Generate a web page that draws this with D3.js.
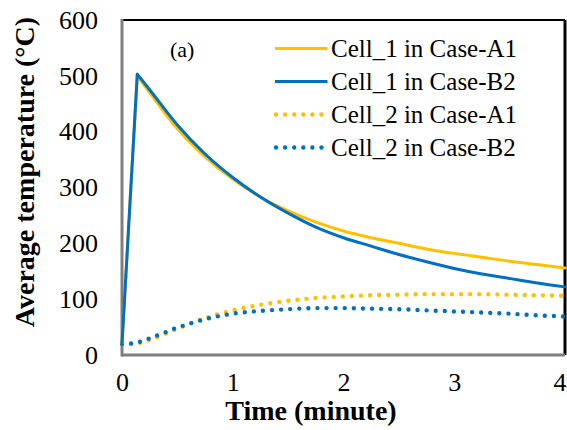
<!DOCTYPE html>
<html>
<head>
<meta charset="utf-8">
<script src="https://cdn.jsdelivr.net/npm/d3@7"></script>
<style>
  html, body { margin: 0; padding: 0; background: #fff; }
  svg { display: block; }
  text { font-family: "Liberation Serif", "Times New Roman", serif; fill: #000; }
</style>
</head>
<body>
<div id="chart"></div>
<script>
// ---- data ----
const timeCell1 = [0, 0.138, 0.25, 0.5, 0.75, 1.0, 1.25, 1.5, 1.75, 2.0, 2.25, 2.5, 2.75, 3.0, 3.25, 3.5, 3.75, 4.0];
const cell1A1 = [20, 500, 470, 405, 355, 315, 283, 258, 238, 222, 210, 200, 190, 182, 175, 168, 162, 156];
const cell1B2 = [20, 503, 475, 412, 360, 318, 283, 254, 229, 210, 195, 180, 167, 155, 145, 137, 129, 122];
const timeCell2 = [0, 0.1, 0.25, 0.5, 0.75, 1.0, 1.25, 1.5, 1.75, 2.0, 2.25, 2.5, 2.75, 3.0, 3.25, 3.5, 3.75, 4.0];
const cell2A1 = [20, 20, 27, 47, 66, 80, 90, 97, 102, 105, 107, 108, 109, 109, 109, 108, 107, 106];
const cell2B2 = [20, 21, 30, 49, 64, 74, 79, 82, 84, 84, 83, 82, 80, 78, 76, 74, 71, 69];
const xTicks = [0, 1, 2, 3, 4];
const yTicks = [0, 100, 200, 300, 400, 500, 600];
const seriesNames = ["Cell_1 in Case-A1", "Cell_1 in Case-B2", "Cell_2 in Case-A1", "Cell_2 in Case-B2"];
const seriesColors = ["#FFC000", "#0070C0", "#FFC000", "#0070C0"];

// ---- layout ----
const W = 567, H = 430;
const m = { left: 122, right: 2, top: 20, bottom: 75 };
const svg = d3.select("#chart").append("svg").attr("width", W).attr("height", H);

const x = d3.scaleLinear().domain([0, 4]).range([m.left, W - m.right]);
const y = d3.scaleLinear().domain([0, 600]).range([H - m.bottom, m.top]);

// plot frame
const x0 = x(0), x1 = x(4), y0 = y(0), y1 = y(600);
svg.append("line").attr("x1", x0).attr("x2", x1).attr("y1", y1).attr("y2", y1)
  .attr("stroke", "#000").attr("stroke-width", 2);
svg.append("line").attr("x1", x1).attr("x2", x1).attr("y1", y1).attr("y2", y0)
  .attr("stroke", "#000").attr("stroke-width", 3);
svg.append("line").attr("x1", x0).attr("x2", x0).attr("y1", y1 - 1).attr("y2", y0 + 1.5)
  .attr("stroke", "#7f7f7f").attr("stroke-width", 3);
svg.append("line").attr("x1", x0).attr("x2", x1).attr("y1", y0).attr("y2", y0)
  .attr("stroke", "#7f7f7f").attr("stroke-width", 3);

// axes (labels only)
const yAxis = d3.axisLeft(y).tickValues(yTicks).tickSize(0).tickPadding(24);
const gy = svg.append("g").attr("transform", `translate(${x0},0)`).call(yAxis);
gy.select(".domain").remove();
gy.selectAll("text").style("font-family", "Liberation Serif, serif").style("font-size", "26px").attr("fill", "#000");

const xAxis = d3.axisBottom(x).tickValues(xTicks).tickSize(0).tickPadding(18).tickFormat(d3.format("d"));
const gx = svg.append("g").attr("transform", `translate(0,${y0})`).call(xAxis);
gx.select(".domain").remove();
gx.selectAll("text").style("font-family", "Liberation Serif, serif").style("font-size", "26px").attr("fill", "#000");
// last tick label sits at the right edge; keep it fully visible
gx.selectAll(".tick").filter(d => d === 4).select("text").attr("text-anchor", "end").attr("x", 1);

// lines
const lineLin = d3.line().x(d => x(d[0])).y(d => y(d[1]));
const lineSmooth = d3.line().x(d => x(d[0])).y(d => y(d[1])).curve(d3.curveMonotoneX);

function drawCell1(vals, color) {
  const pts = timeCell1.map((t, i) => [t, vals[i]]);
  svg.append("path").attr("d", lineLin(pts.slice(0, 2)))
    .attr("fill", "none").attr("stroke", color).attr("stroke-width", 3).attr("stroke-linejoin", "round");
  svg.append("path").attr("d", lineSmooth(pts.slice(1)))
    .attr("fill", "none").attr("stroke", color).attr("stroke-width", 3).attr("stroke-linecap", "round");
}
function drawCell2(vals, color) {
  const pts = timeCell2.map((t, i) => [t, vals[i]]);
  svg.append("path").attr("d", lineSmooth(pts))
    .attr("fill", "none").attr("stroke", color).attr("stroke-width", 4.4)
    .attr("stroke-linecap", "round").attr("stroke-dasharray", "0 9.1");
}
drawCell2(cell2A1, seriesColors[2]);
drawCell2(cell2B2, seriesColors[3]);
drawCell1(cell1A1, seriesColors[0]);
drawCell1(cell1B2, seriesColors[1]);

// label (a)
svg.append("text").attr("x", 170).attr("y", 57).style("font-size", "22px").text("(a)");

// legend
const lg = svg.append("g");
seriesNames.forEach((name, i) => {
  const yy = 48.5 + i * 33;
  const dotted = i >= 2;
  lg.append("line").attr("x1", dotted ? 276 : 275).attr("x2", dotted ? 322 : 327.5)
    .attr("y1", yy).attr("y2", yy)
    .attr("stroke", seriesColors[i]).attr("stroke-width", dotted ? 4.4 : 3)
    .attr("stroke-linecap", dotted ? "round" : "butt")
    .attr("stroke-dasharray", dotted ? "0 9.1" : null);
  lg.append("text").attr("x", 331).attr("y", yy + 8.5).style("font-size", "25px").text(name);
});

// axis titles
svg.append("text").attr("x", 311).attr("y", 420).attr("text-anchor", "middle")
  .style("font-size", "28px").style("font-weight", "bold").text("Time (minute)");
svg.append("text").attr("transform", "translate(34,172) rotate(-90)").attr("text-anchor", "middle")
  .style("font-size", "28px").style("font-weight", "bold").text("Average temperature (°C)");
</script>
</body>
</html>
